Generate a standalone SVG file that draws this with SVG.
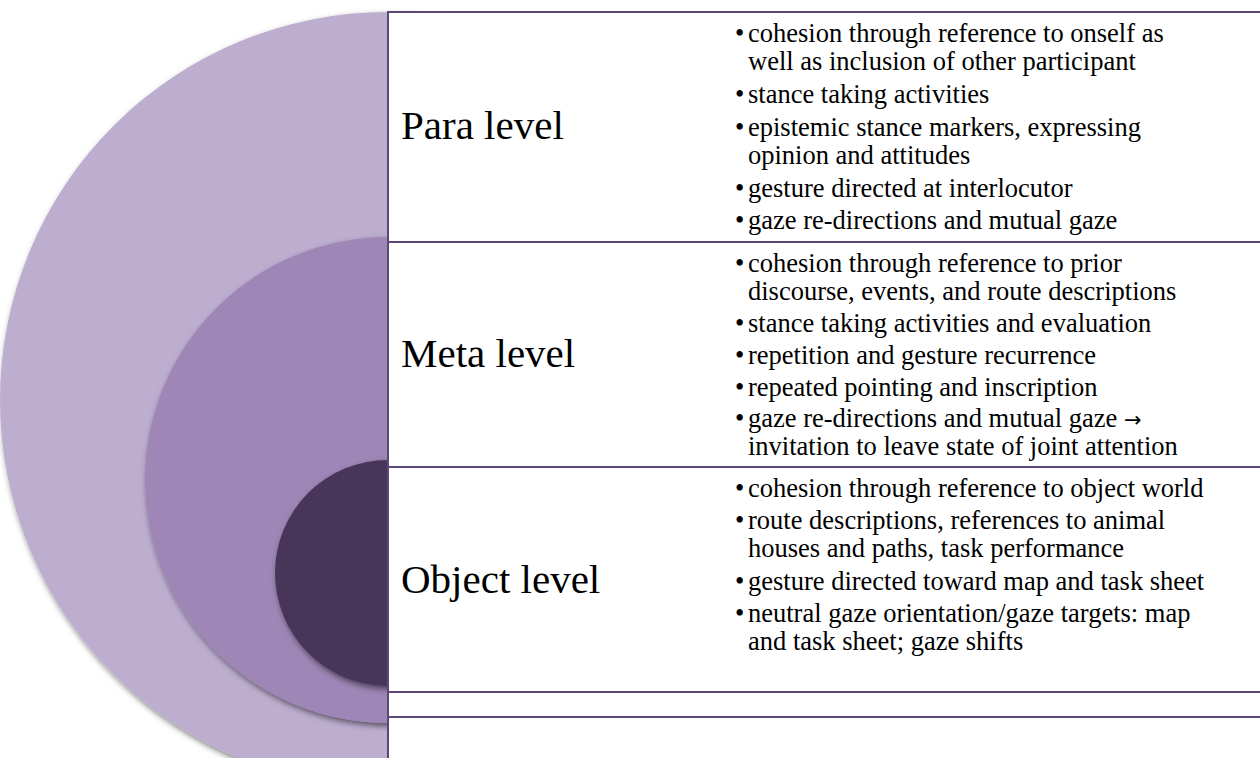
<svg xmlns="http://www.w3.org/2000/svg" width="1260" height="758" viewBox="0 0 1260 758">
<style>
.box{fill:#ffffff;stroke:#5B4877;stroke-width:2}
.lbl{font-family:"Liberation Serif","Times New Roman",serif;font-size:41px;fill:#000}
.bt{font-family:"Liberation Serif","Times New Roman",serif;font-size:26.5px;fill:#000}
.arr{font-family:"DejaVu Sans",sans-serif;font-size:21px}
</style>
<defs>
<filter id="sh" x="-10%" y="-10%" width="130%" height="130%">
<feDropShadow dx="2" dy="3" stdDeviation="3" flood-color="#000" flood-opacity="0.55"/>
</filter>
</defs>
<rect width="1260" height="758" fill="#ffffff"/>
<g id="circles">
<circle cx="388" cy="400" r="388" fill="#BDAED0" filter="url(#sh)"/>
<circle cx="388" cy="480" r="243" fill="#9E86B6" filter="url(#sh)"/>
<circle cx="388" cy="573" r="113" fill="#46355A" filter="url(#sh)"/>
</g>
<g id="para">
<rect class="box" x="388" y="12" width="900" height="780"/>
<text class="lbl" x="401" y="139">Para level</text>
<text class="bt">
<tspan x="735" y="42">•</tspan><tspan x="748" y="42">cohesion through reference to onself as</tspan>
<tspan x="748" y="70">well as inclusion of other participant</tspan>
<tspan x="735" y="103">•</tspan><tspan x="748" y="103">stance taking activities</tspan>
<tspan x="735" y="136">•</tspan><tspan x="748" y="136">epistemic stance markers, expressing</tspan>
<tspan x="748" y="164">opinion and attitudes</tspan>
<tspan x="735" y="197">•</tspan><tspan x="748" y="197">gesture directed at interlocutor</tspan>
<tspan x="735" y="229">•</tspan><tspan x="748" y="229">gaze re-directions and mutual gaze</tspan>
</text>
</g>
<g id="meta">
<rect class="box" x="388" y="242" width="900" height="475"/>
<text class="lbl" x="401" y="367">Meta level</text>
<text class="bt">
<tspan x="735" y="272">•</tspan><tspan x="748" y="272">cohesion through reference to prior</tspan>
<tspan x="748" y="300">discourse, events, and route descriptions</tspan>
<tspan x="735" y="332">•</tspan><tspan x="748" y="332">stance taking activities and evaluation</tspan>
<tspan x="735" y="364">•</tspan><tspan x="748" y="364">repetition and gesture recurrence</tspan>
<tspan x="735" y="396">•</tspan><tspan x="748" y="396">repeated pointing and inscription</tspan>
<tspan x="735" y="427">•</tspan><tspan x="748" y="427">gaze re-directions and mutual gaze <tspan class="arr">→</tspan></tspan>
<tspan x="748" y="455">invitation to leave state of joint attention</tspan>
</text>
</g>
<g id="object">
<rect class="box" x="388" y="467" width="900" height="225"/>
<text class="lbl" x="401" y="593">Object level</text>
<text class="bt">
<tspan x="735" y="497">•</tspan><tspan x="748" y="497">cohesion through reference to object world</tspan>
<tspan x="735" y="529">•</tspan><tspan x="748" y="529">route descriptions, references to animal</tspan>
<tspan x="748" y="557">houses and paths, task performance</tspan>
<tspan x="735" y="590">•</tspan><tspan x="748" y="590">gesture directed toward map and task sheet</tspan>
<tspan x="735" y="622">•</tspan><tspan x="748" y="622">neutral gaze orientation/gaze targets: map</tspan>
<tspan x="748" y="650">and task sheet; gaze shifts</tspan>
</text>
</g>
<g id="connectors"></g>
</svg>
